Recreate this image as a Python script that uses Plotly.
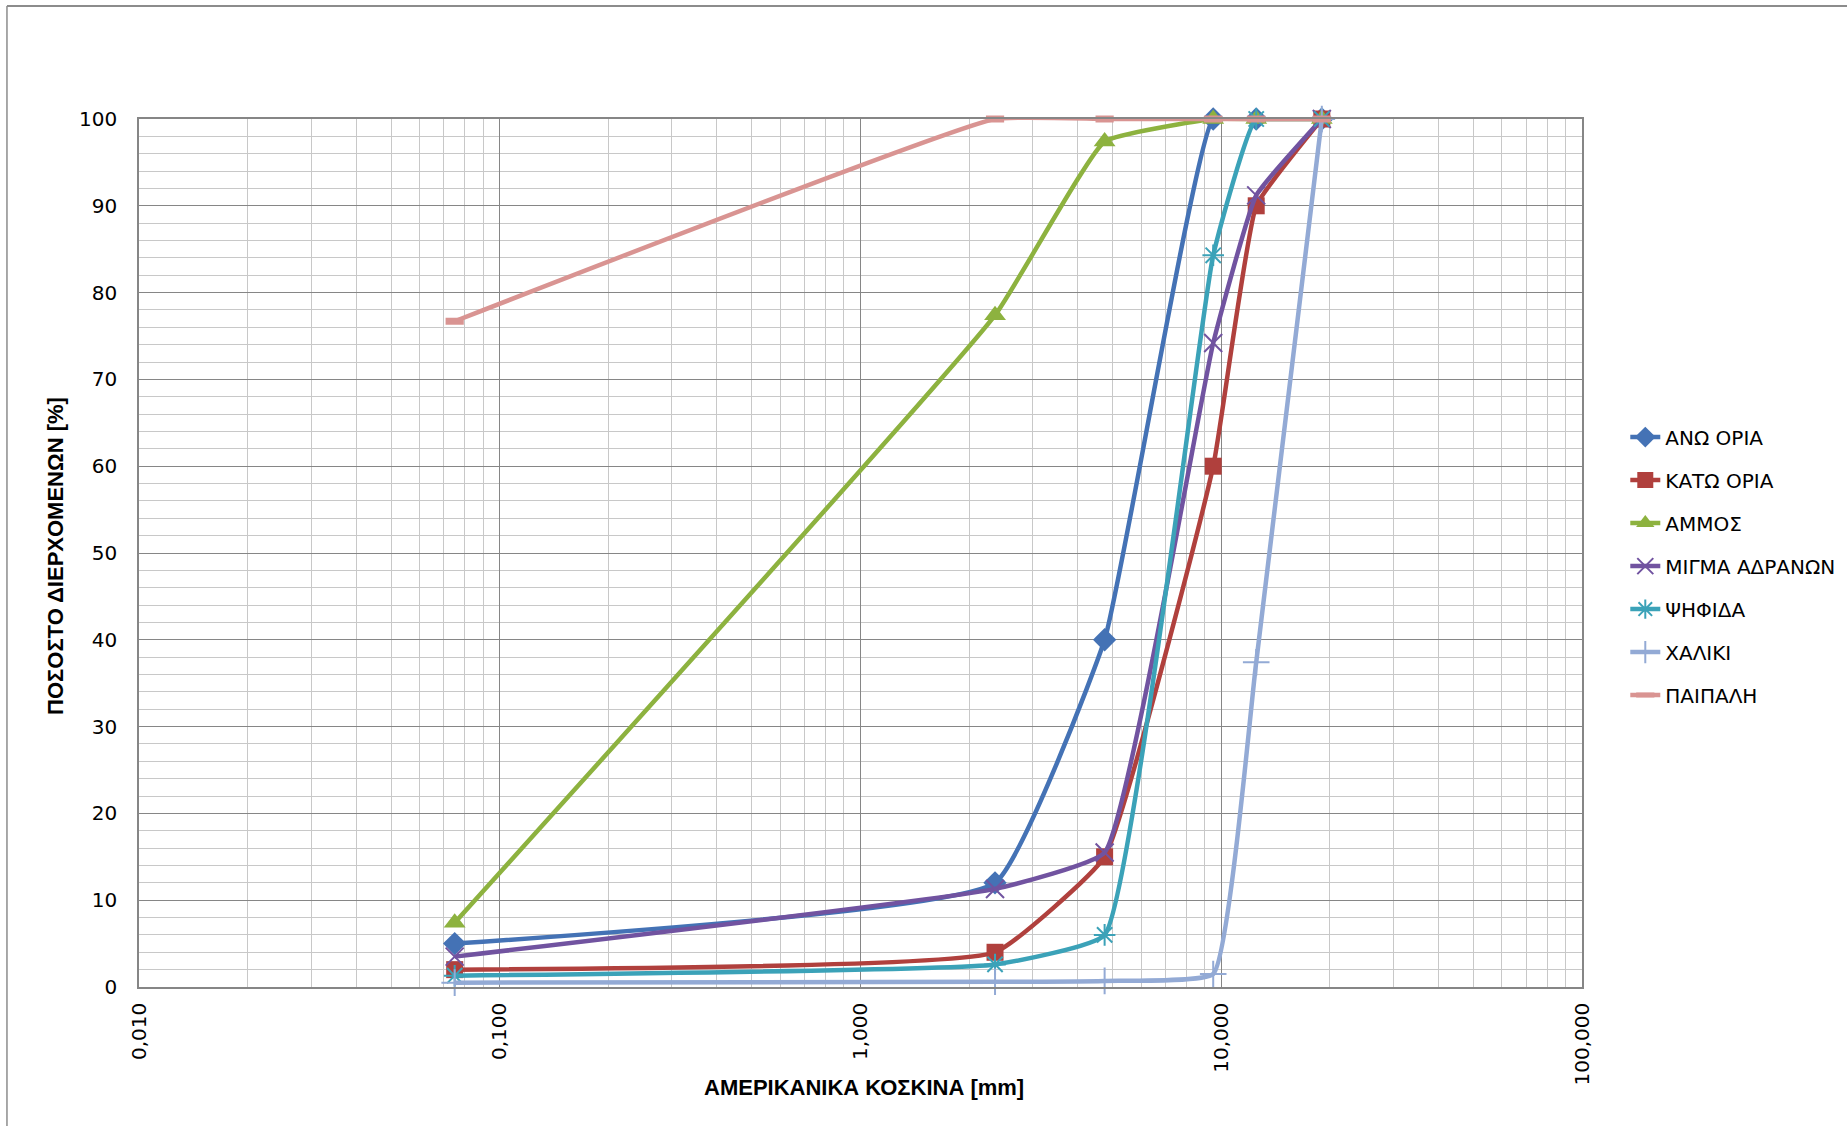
import plotly.graph_objects as go

sieves = [0.075, 2.36, 4.75, 9.5, 12.5, 19.0]

ano_oria = [5.0, 12.0, 40.0, 100.0, 100.0, 100.0]
kato_oria = [2.0, 4.0, 15.0, 60.0, 90.0, 100.0]
ammos = [7.4, 77.4, 97.4, 100.0, 100.0, 100.0]
migma = [3.5, 11.3, 15.5, 74.2, 91.2, 100.0]
psifida = [1.3, 2.6, 6.0, 84.3, 100.0, 100.0]
chaliki = [0.5, 0.6, 0.7, 1.5, 37.4, 100.0]
paipali = [76.7, 100.0, 100.0, 100.0, 100.0, 100.0]

x_tickvals = [0.01, 0.1, 1, 10, 100]
x_ticktext = ["0,010", "0,100", "1,000", "10,000", "100,000"]
y_tickvals = [0, 10, 20, 30, 40, 50, 60, 70, 80, 90, 100]

series = [
    ("ΑΝΩ ΟΡΙΑ", ano_oria, "#4472B5", dict(symbol="diamond", size=18)),
    ("ΚΑΤΩ ΟΡΙΑ", kato_oria, "#B0403D", dict(symbol="square", size=17)),
    ("ΑΜΜΟΣ", ammos, "#8DB23F", dict(symbol="triangle-up", size=19)),
    ("ΜΙΓΜΑ ΑΔΡΑΝΩΝ", migma, "#7153A0", dict(symbol="x-thin-open", size=18, line=dict(width=2, color="#7153A0"))),
    ("ΨΗΦΙΔΑ", psifida, "#3BA2B8", dict(symbol="asterisk-open", size=18, line=dict(width=2, color="#3BA2B8"))),
    ("ΧΑΛΙΚΙ", chaliki, "#93AAD5", dict(symbol="cross-thin-open", size=19, line=dict(width=2, color="#7E98CC"))),
    ("ΠΑΙΠΑΛΗ", paipali, "#D99492", dict(symbol="line-ew-open", size=13, line=dict(width=7, color="#D99492"))),
]

fig = go.Figure()
for i, (name, vals, color, mk) in enumerate(series):
    m = dict(color=color)
    m.update(mk)
    fig.add_trace(go.Scatter(
        x=sieves, y=vals, name=name, mode="lines+markers",
        line=dict(color=color, width=4.5, shape="spline", smoothing=0.35),
        marker=m, cliponaxis=False, legendgroup=f"g{i}",
    ))

minor_x = [m * 10 ** e for e in (-2, -1, 0, 1) for m in range(2, 10)]

fig.update_layout(
    width=1847, height=1126,
    margin=dict(l=139, r=265, t=119, b=139, autoexpand=False),
    paper_bgcolor="white", plot_bgcolor="white",
    font=dict(family="DejaVu Sans", size=20, color="#000000"),
    showlegend=True,
    legend=dict(
        x=1.030, y=0.656, xanchor="left", yanchor="top",
        font=dict(family="DejaVu Sans", size=20, color="#000000"),
        tracegroupgap=14, bgcolor="rgba(0,0,0,0)",
    ),
    xaxis=dict(
        type="log", range=[-2, 2],
        tickvals=x_tickvals, ticktext=x_ticktext, tickangle=-90,
        tickfont=dict(family="DejaVu Sans", size=20),
        showgrid=True, gridcolor="#868686", gridwidth=1,
        minor=dict(tickvals=minor_x, showgrid=True, gridcolor="#C8C8C8", gridwidth=1),
        showline=True, linecolor="#868686", linewidth=1.5, mirror=True,
        ticks="", zeroline=False, ticklabelstandoff=6,
    ),
    yaxis=dict(
        range=[0, 100], tickvals=y_tickvals,
        tickfont=dict(family="DejaVu Sans", size=20),
        showgrid=True, gridcolor="#868686", gridwidth=1,
        minor=dict(dtick=2, showgrid=True, gridcolor="#C8C8C8", gridwidth=1),
        showline=True, linecolor="#868686", linewidth=1.5, mirror=True,
        ticks="", zeroline=False, ticklabelstandoff=16,
    ),
    annotations=[
        dict(text="<b>ΑΜΕΡΙΚΑΝΙΚΑ ΚΟΣΚΙΝΑ [mm]</b>", xref="paper", yref="paper",
             x=0.5025, y=-0.116, xanchor="center", yanchor="middle", showarrow=False,
             font=dict(family="Liberation Sans", size=22, color="#000000")),
        dict(text="<b>ΠΟΣΟΣΤΟ ΔΙΕΡΧΟΜΕΝΩΝ [%]</b>", xref="paper", yref="paper",
             x=-0.058, y=0.497, xanchor="center", yanchor="middle", showarrow=False,
             textangle=-90,
             font=dict(family="Liberation Sans", size=22, color="#000000")),
    ],
    shapes=[
        dict(type="line", xref="paper", yref="paper", x0=-0.0915, x1=1.2, y0=1.1302, y1=1.1302,
             line=dict(color="#8C8C8C", width=2)),
        dict(type="line", xref="paper", yref="paper", x0=-0.0915, x1=-0.0915, y0=1.1302, y1=-0.2,
             line=dict(color="#8C8C8C", width=1.5)),
    ],
)

fig.write_html("out.html", config={"displayModeBar": False},
               post_script="document.body.style.margin='0';")
